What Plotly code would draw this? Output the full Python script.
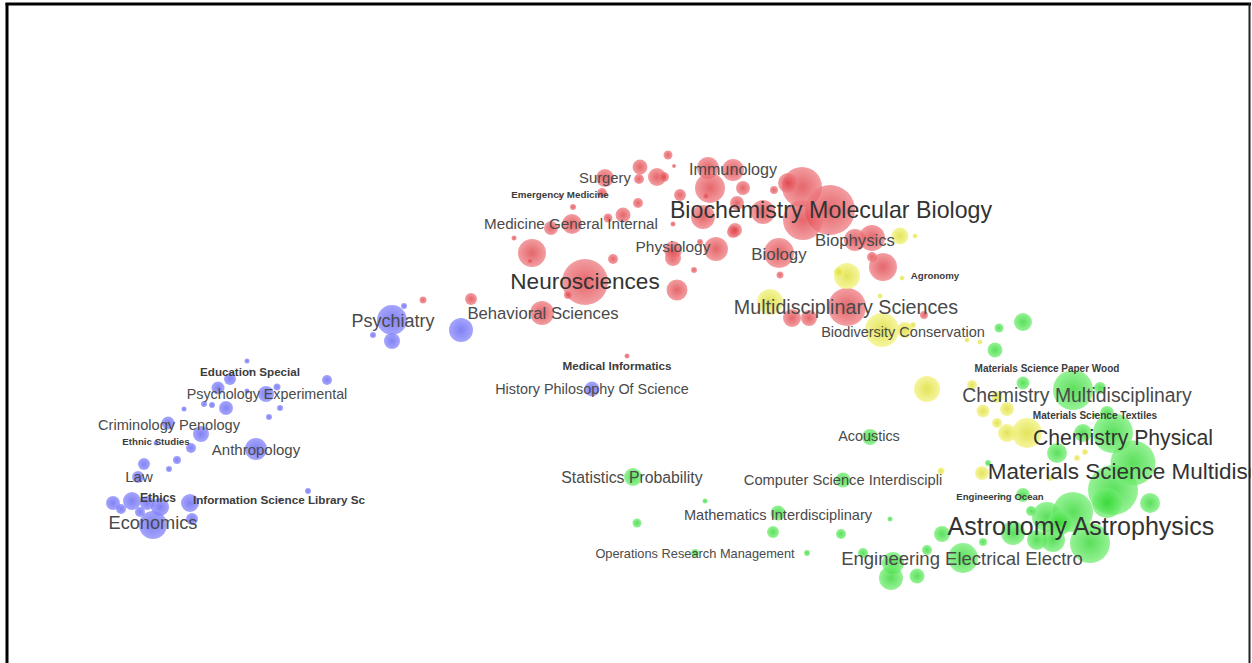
import plotly.graph_objects as go

# ---- map items (map coordinates, weight = bubble diameter) ----
blue_x = [392, 392, 404, 373, 461, 247, 230, 327, 218, 266, 277, 247, 226, 204, 212, 280, 269, 184, 168, 201,
          191, 177, 169, 144, 256, 156, 138, 308, 280, 113, 121, 132, 147, 160, 190, 192, 153, 140, 592, 250]
blue_y = [320, 341, 306, 335, 330, 361, 379, 380, 388, 394, 387, 391, 408, 404, 405, 408, 417, 409, 423, 434,
          448, 460, 469, 464, 449, 443, 477, 491, 500, 503, 509, 501, 503, 507, 503, 519, 525, 512, 389, 371]
blue_w = [30, 16, 6, 6, 24, 5, 12, 10, 13, 16, 7, 5, 14, 6, 6, 6, 6, 5, 13, 16,
          10, 8, 6, 12, 22, 5, 12, 6, 4, 14, 10, 18, 14, 18, 18, 12, 28, 10, 15, 3]

red_x = [668, 674, 640, 657, 664, 639, 605, 602, 560, 573, 638, 623, 608, 572, 551, 514, 532, 530, 613, 585,
         568, 677, 673, 673, 673, 694, 542, 471, 423, 716, 700, 708, 733, 710, 706, 680, 743, 703, 733, 737,
         774, 802, 788, 830, 803, 763, 735, 779, 780, 855, 872, 872, 883, 847, 792, 809, 924, 627, 617]
red_y = [155, 166, 167, 177, 177, 179, 178, 193, 196, 207, 203, 215, 218, 224, 228, 238, 253, 261, 259, 282,
         295, 290, 258, 250, 224, 270, 313, 299, 300, 249, 242, 168, 170, 188, 196, 195, 188, 217, 232, 203,
         190, 187, 183, 210, 220, 212, 230, 253, 275, 240, 238, 257, 267, 307, 318, 318, 315, 356, 366]
red_w = [9, 4, 15, 18, 10, 10, 18, 10, 4, 6, 10, 15, 9, 20, 14, 5, 28, 5, 10, 46,
         8, 21, 16, 18, 5, 6, 24, 12, 7, 24, 6, 22, 22, 30, 6, 12, 14, 24, 12, 14,
         8, 40, 20, 50, 40, 24, 14, 30, 7, 22, 26, 10, 28, 38, 18, 16, 8, 5, 4]

yellow_x = [900, 915, 847, 839, 902, 770, 880, 882, 905, 913, 967, 980, 927, 972, 997, 983, 1007, 997, 1007, 1027,
            1085, 941, 982, 1050, 1077, 935]
yellow_y = [236, 236, 276, 272, 278, 302, 296, 330, 330, 325, 340, 342, 389, 385, 397, 411, 409, 423, 433, 433,
            452, 471, 473, 478, 458, 277]
yellow_w = [17, 5, 26, 10, 5, 26, 5, 34, 16, 6, 5, 5, 26, 10, 12, 13, 14, 10, 18, 30,
            6, 7, 14, 6, 6, 4]

green_x = [1023, 999, 995, 1023, 1073, 1100, 1107, 1113, 1083, 1057, 988, 1113, 1133, 1150, 1107, 1073, 1047, 1090,
           1023, 1031, 1013, 1037, 1053, 1060, 983, 942, 927, 890, 841, 863, 963, 893, 891, 917, 843, 870, 633,
           705, 637, 778, 773, 695, 807, 1047, 1095, 1000]
green_y = [322, 328, 350, 383, 390, 388, 413, 433, 433, 453, 463, 490, 463, 503, 503, 512, 517, 543,
           495, 511, 533, 540, 540, 523, 542, 534, 550, 519, 534, 553, 558, 563, 578, 576, 480, 437, 477,
           501, 523, 513, 532, 553, 553, 368, 415, 496]
green_w = [18, 9, 15, 13, 40, 12, 14, 40, 18, 20, 6, 50, 45, 20, 30, 40, 30, 40,
           14, 10, 24, 20, 24, 24, 8, 16, 10, 5, 10, 10, 30, 22, 24, 15, 15, 16, 18,
           5, 9, 15, 12, 8, 6, 4, 4, 4]

# ---- labels ----
label_text = ["Biochemistry Molecular Biology", "Neurosciences", "Astronomy Astrophysics",
              "Materials Science Multidisciplinary", "Chemistry Physical",
              "Chemistry Multidisciplinary", "Multidisciplinary Sciences", "Engineering Electrical Electro",
              "Economics", "Psychiatry", "Immunology", "Biology", "Biophysics", "Physiology",
              "Behavioral Sciences", "Medicine General Internal", "Surgery", "Anthropology",
              "Psychology Experimental", "Criminology Penology", "Law", "Statistics Probability",
              "History Philosophy Of Science", "Computer Science Interdiscipli", "Acoustics",
              "Mathematics Interdisciplinary", "Biodiversity Conservation", "Operations Research Management",
              "Education Special", "Ethnic Studies", "Ethics", "Information Science Library Sc",
              "Emergency Medicine", "Medical Informatics", "Agronomy", "Materials Science Paper Wood",
              "Materials Science Textiles", "Engineering Ocean"]
label_x = [831, 585, 1081, 1159, 1123, 1077, 846, 962, 153, 393, 733, 779, 855, 673, 543, 571, 605, 256,
           267, 169, 139, 632, 592, 843, 869, 778, 903, 695, 250, 156, 158, 279, 560, 617, 935, 1047, 1095, 1000]
label_y = [210, 282, 527, 472, 438, 395, 307, 559, 523, 321, 169, 254, 240, 246, 313, 223, 178, 449,
           394, 425, 476, 477, 389, 480, 436, 515, 332, 553, 371, 441, 497, 499, 194, 365, 275, 368, 415, 496]
label_rank = [1, 1, 1, 1, 1, 2, 2, 2, 2, 3, 3, 3, 3, 3, 3, 3, 3, 3,
              3, 3, 3, 3, 4, 4, 4, 4, 4, 4, 5, 5, 5, 5, 5, 5, 5, 5, 5, 5]
label_size = [23.2, 22.6, 25, 22.5, 21.2, 19.4, 19.7, 18.5, 18.2, 18, 16.2, 16.9, 16.7, 15.5, 16.7, 15.2, 14.8, 15,
              14.3, 14.6, 15, 15.8, 14.4, 14.7, 14.4, 14.6, 14.5, 12.8, 11.6, 9.7, 12, 11.7, 9.8, 11.7, 9.7, 10,
              10.1, 9.6]

rank_color = {1: "#333333", 2: "#4a4a4a", 3: "#4a4a4a", 4: "#4a4a4a", 5: "#3c3c3c"}

clusters = [
    (blue_x, blue_y, blue_w, "rgb(135,135,252)", "rgb(88,88,240)"),
    (red_x, red_y, red_w, "rgb(238,125,130)", "rgb(220,52,58)"),
    (yellow_x, yellow_y, yellow_w, "rgb(242,242,125)", "rgb(218,218,38)"),
    (green_x, green_y, green_w, "rgb(115,238,115)", "rgb(36,212,36)"),
]

fig = go.Figure()
for xs, ys, ws, c_in, c_out in clusters:
    fig.add_trace(go.Scatter(
        x=xs, y=ys, mode="markers",
        marker=dict(size=ws, sizemode="diameter", color=c_in, opacity=0.75,
                    gradient=dict(type="radial", color=c_out), line=dict(width=0)),
        hoverinfo="skip", showlegend=False, cliponaxis=True))

TEXT_DY = 1.8  # baseline nudge so text is visually centred on the item
for bold in (False, True):
    idx = [i for i, r in enumerate(label_rank) if (r == 5) == bold]
    fig.add_trace(go.Scatter(
        x=[label_x[i] for i in idx], y=[label_y[i] + TEXT_DY for i in idx], mode="text",
        text=[label_text[i] for i in idx], textposition="middle center",
        textfont=dict(family="Liberation Sans, Arial, sans-serif",
                      size=[label_size[i] for i in idx],
                      color=[rank_color[label_rank[i]] for i in idx],
                      weight="bold" if bold else "normal"),
        hoverinfo="skip", showlegend=False, cliponaxis=True))

W, H = 1252, 663
fig.update_layout(
    width=W, height=H, margin=dict(l=0, r=0, t=0, b=0),
    paper_bgcolor="white", plot_bgcolor="white",
    xaxis=dict(range=[0, W], visible=False, fixedrange=True),
    yaxis=dict(range=[H, 0], visible=False, fixedrange=True),
    shapes=[
        dict(type="rect", xref="x", yref="y", x0=1250.5, x1=1253, y0=0, y1=H,
             fillcolor="white", line=dict(width=0), layer="above"),
        dict(type="line", xref="x", yref="y", x0=7, x1=7, y0=3, y1=H + 5,
             line=dict(color="black", width=3), layer="above"),
        dict(type="line", xref="x", yref="y", x0=5.5, x1=1251, y0=4, y1=4,
             line=dict(color="black", width=3), layer="above"),
        dict(type="line", xref="x", yref="y", x0=1249.5, x1=1249.5, y0=3, y1=H + 5,
             line=dict(color="#222222", width=2), layer="above"),
    ],
)
fig.write_html("out.html", config={"displayModeBar": False},
               post_script="document.body.style.margin='0';document.body.style.overflow='hidden';")
